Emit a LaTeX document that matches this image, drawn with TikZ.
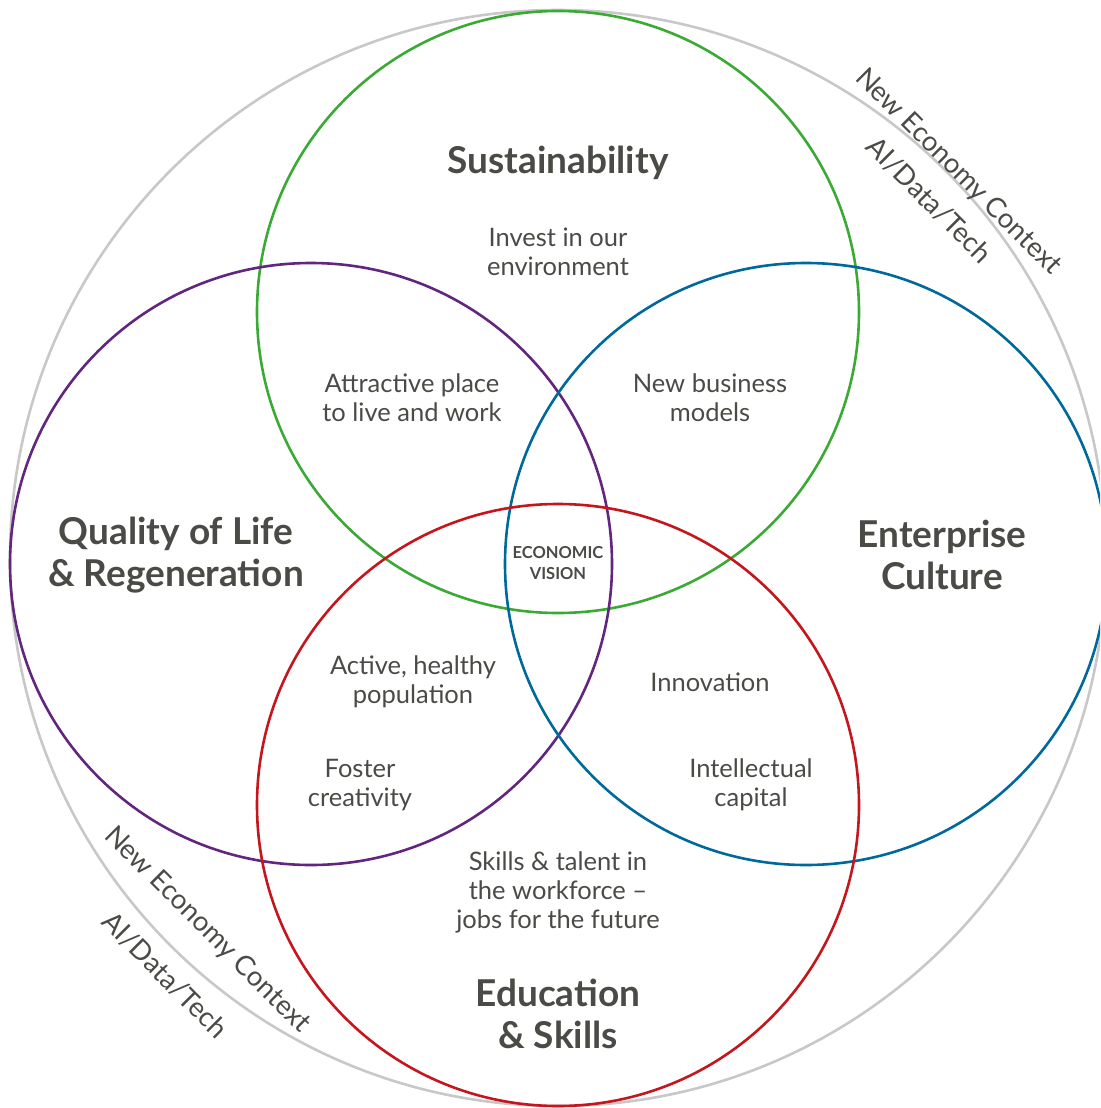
\documentclass[tikz,border=0pt]{standalone}
\usepackage{fontspec}
\setmainfont{Lato}
\definecolor{cgreen}{HTML}{3BAA35}
\definecolor{cpurple}{HTML}{62267E}
\definecolor{cblue}{HTML}{00699B}
\definecolor{cred}{HTML}{C4161C}
\definecolor{cgray}{HTML}{C8C8C8}
\definecolor{ctext}{HTML}{4A4A46}
\tikzset{
  ring/.style={line width=2.6pt},
  title/.style={text=ctext, font=\fontsize{37}{42}\selectfont\bfseries, align=center},
  body/.style={text=ctext, font=\fontsize{25.5}{29}\selectfont, align=center},
  ctx/.style={text=ctext, font=\fontsize{27.5}{30}\selectfont, rotate=-45},
  core/.style={text=ctext, font=\fontsize{16.5}{21}\selectfont\bfseries, align=center}
}
\begin{document}
\begin{tikzpicture}[x=1pt,y=-1pt]
\useasboundingbox (0,0) rectangle (1100,1108);
\clip (0,0) rectangle (1100,1108);
\draw[ring, cgray] (558,558) circle (548);
\draw[ring, cgreen] (558,312) circle (301);
\draw[ring, cpurple] (311,564) circle (301);
\draw[ring, cblue] (806,564) circle (301);
\draw[ring, cred] (558,805) circle (301);

\node[title] (sus) at (558,163) {Sustainability};
\node[title] (qol) at (176,555) {Quality of Life\\\& Regeneration};
\node[title] (ent) at (942,555) {Enterprise\\Culture};
\node[title] (edu) at (558,1014) {Education\\\& Skills};

\node[body] (inv) at (558,252) {Invest in our\\environment};
\node[body] (att) at (412,398) {Attractive place\\to live and work};
\node[body] (nbm) at (710,398) {New business\\models};
\node[core] (eco) at (558,563) {ECONOMIC\\VISION};
\node[body] (act) at (413,682) {Active, healthy\\population};
\node[body] (inn) at (710,682) {Innovation};
\node[body] (fos) at (360,785) {Foster\\creativity};
\node[body] (int) at (751,785) {Intellectual\\capital};
\node[body] (skl) at (558,892) {Skills \& talent in\\the workforce --\\jobs for the future};

\node[ctx] (nec1) at (958,172) {New Economy Context};
\node[ctx] (ai1) at (929,200) {AI/Data/Tech};
\node[ctx] (nec2) at (207,930) {New Economy Context};
\node[ctx] (ai2) at (165,975) {AI/Data/Tech};
\end{tikzpicture}
\end{document}
